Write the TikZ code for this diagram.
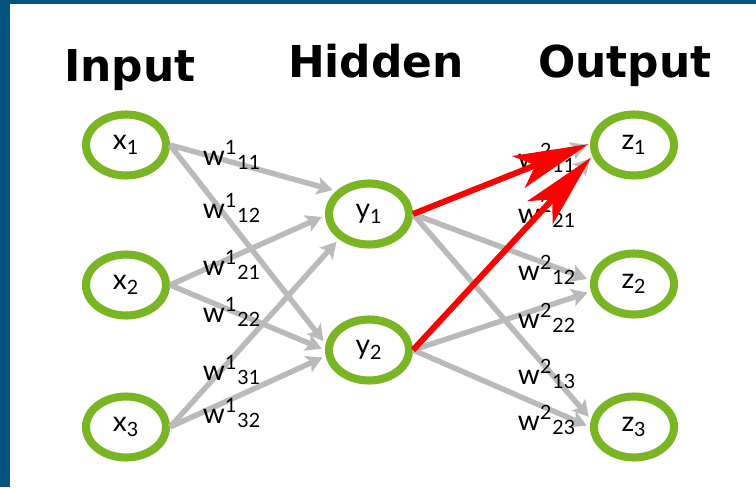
\documentclass[tikz,border=0pt]{standalone}
\usepackage{fontspec}
\setmainfont{Lato}
\newfontfamily\headingFont{DejaVu Sans}
\usetikzlibrary{shapes.geometric, arrows.meta}
\definecolor{neuronGreen}{RGB}{122,182,36}
\definecolor{frameBlue}{RGB}{5,84,127}
\definecolor{weightGray}{RGB}{186,186,186}
\newcommand{\activeColor}{red}

\begin{document}
\begin{tikzpicture}[
            x=0.02cm, y=-0.02cm,
            neuron/.style={ellipse, draw=neuronGreen, line width=4.6pt, fill=white,
                minimum width=1.6cm, minimum height=1.22cm, inner sep=0pt,
                font=\fontsize{16}{18}\selectfont},
            layer/.style={anchor=base, font=\headingFont\bfseries\fontsize{25}{29}\selectfont},
            weight/.style={inner sep=0pt, font=\fontsize{16}{18}\selectfont},
            link/.style={draw=weightGray, line width=3.1pt, shorten >=2pt,
                -{Stealth[length=9pt, width=10pt, inset=2pt]}},
            hot/.style={draw=\activeColor, line width=3.4pt, shorten >=1pt,
                -{Stealth[length=1.5cm, width=0.68cm, inset=0.36cm]}}
        ]
        % page and frame
        \fill[white] (0,0) rectangle (756,487);
        \fill[frameBlue] (0,0) rectangle (10,487);
        \fill[frameBlue] (0,0) rectangle (756,4);

        % layer titles
        \node[layer] (inputTitle) at (130,81) {Input};
        \node[layer] (hiddenTitle) at (376,77) {Hidden};
        \node[layer] (outputTitle) at (625,77) {Output};

        % neurons
        \node[neuron] (x1) at (126,145) {x\textsubscript{1}};
        \node[neuron] (x2) at (126,285) {x\textsubscript{2}};
        \node[neuron] (x3) at (126,427) {x\textsubscript{3}};
        \node[neuron] (y1) at (369,214) {y\textsubscript{1}};
        \node[neuron] (y2) at (369,350) {y\textsubscript{2}};
        \node[neuron] (z1) at (634,145) {z\textsubscript{1}};
        \node[neuron] (z2) at (634,284) {z\textsubscript{2}};
        \node[neuron] (z3) at (634,427) {z\textsubscript{3}};

        % input -> hidden
        \draw[link] (x1.east) -- (y1.145);
        \draw[link] (x1.east) -- (y2.172);
        \draw[link] (x2.east) -- (y1.182);
        \draw[link] (x2.east) -- (y2.180);
        \draw[link] (x3.east) -- (y1.220);
        \draw[link] (x3.east) -- (y2.188);

        % hidden -> output
        \draw[link] (y1.east) -- (z1.178);
        \draw[link] (y1.east) -- (z2.175);
        \draw[link] (y1.east) -- (z3.170);
        \draw[link] (y2.east) -- (z1.195);
        \draw[link] (y2.east) -- (z2.190);
        \draw[link] (y2.east) -- (z3.180);

        % weights
        \node[weight] (w111) at (232,155) {w\textsuperscript{1}\textsubscript{11}};
        \node[weight] (w112) at (232,208) {w\textsuperscript{1}\textsubscript{12}};
        \node[weight] (w121) at (232,265) {w\textsuperscript{1}\textsubscript{21}};
        \node[weight] (w122) at (232,312) {w\textsuperscript{1}\textsubscript{22}};
        \node[weight] (w131) at (232,370) {w\textsuperscript{1}\textsubscript{31}};
        \node[weight] (w132) at (232,413) {w\textsuperscript{1}\textsubscript{32}};
        \node[weight] (w211) at (547,158) {w\textsuperscript{2}\textsubscript{11}};
        \node[weight] (w221) at (547,213) {w\textsuperscript{2}\textsubscript{21}};
        \node[weight] (w212) at (547,270) {w\textsuperscript{2}\textsubscript{12}};
        \node[weight] (w222) at (547,318) {w\textsuperscript{2}\textsubscript{22}};
        \node[weight] (w213) at (547,374) {w\textsuperscript{2}\textsubscript{13}};
        \node[weight] (w223) at (547,420) {w\textsuperscript{2}\textsubscript{23}};

        % active paths into z1
        \draw[hot] (y1.east) -- (z1.178);
        \draw[hot] (y2.east) -- (z1.195);
    \end{tikzpicture}
\end{document}
